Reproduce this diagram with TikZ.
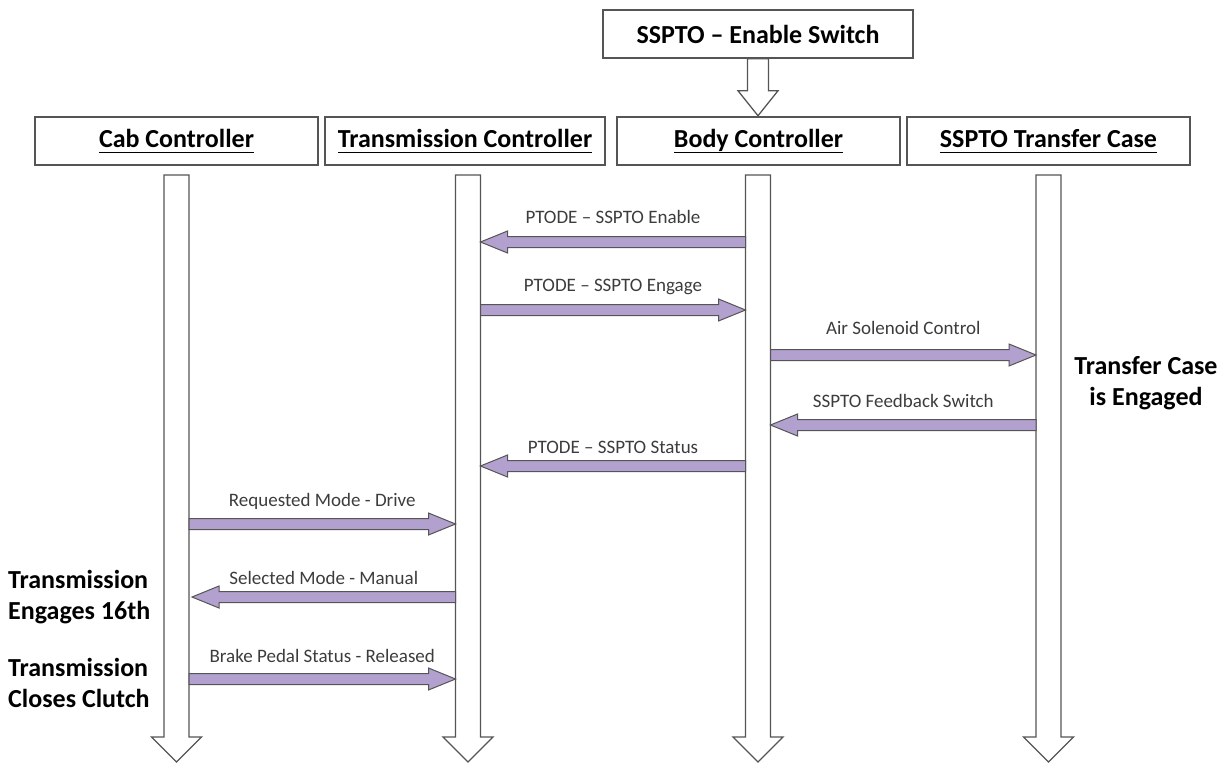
\documentclass[tikz,border=0pt]{standalone}
\usepackage{fontspec}
\setmainfont{Carlito}
\usetikzlibrary{calc}
\definecolor{lav}{RGB}{178,160,206}
\definecolor{edgec}{RGB}{85,85,85}
\definecolor{lbltext}{RGB}{60,60,60}
\newcommand\hdr[1]{\underline{#1\vphantom{Cyfl}}}
\newcommand\lifeline[1]{%
  \draw[hollow] (#1) ++(-12.5,0) -- ++(25,0) -- ++(0,562) -- ++(12.5,0) -- ++(-25,25) -- ++(-25,-25) -- ++(12.5,0) -- cycle;}
\newcommand\msg[4]{%
  \draw[fat] let \p1=(#1), \p2=(#2), \n1={sign(\x2-\x1)} in
    ({\x1},{\y1+5.5pt}) -- ({\x2-\n1*27pt},{\y1+5.5pt}) -- ({\x2-\n1*27pt},{\y1+11pt}) -- (\p2)
    -- ({\x2-\n1*27pt},{\y1-11pt}) -- ({\x2-\n1*27pt},{\y1-5.5pt}) -- ({\x1},{\y1-5.5pt}) -- cycle;
  \node[lbl] at ($(#1)!0.5!(#2)+(0,#4)$) {#3};}
\begin{document}
\begin{tikzpicture}[x=1pt,y=-1pt,
  box/.style={draw=edgec, line width=1.5pt, fill=white, minimum height=48pt, inner sep=0pt,
    font=\fontsize{26}{30}\selectfont\bfseries},
  lbl/.style={font=\fontsize{19}{22}\selectfont, text=lbltext},
  side/.style={font=\fontsize{26}{31}\selectfont\bfseries, align=left, inner sep=0pt},
  hollow/.style={draw=edgec, line width=1.3pt, fill=white},
  fat/.style={draw=edgec, line width=1pt, fill=lav}]
\useasboundingbox (0,0) rectangle (1228,763);

% boxes
\node[box, minimum width=310pt] (sw) at (758,34) {SSPTO – Enable Switch};
\node[box, minimum width=283pt] (cab) at (176.5,141) {\hdr{Cab Controller}};
\node[box, minimum width=280pt] (trans) at (465,141) {\hdr{Transmission Controller}};
\node[box, minimum width=283pt] (body) at (758.5,141) {\hdr{Body Controller}};
\node[box, minimum width=283pt] (tc) at (1048.5,141) {\hdr{SSPTO Transfer Case}};

% enable switch hollow arrow
\draw[hollow] (sw.south) ++(-10.5,0) -- ++(21,0) -- ++(0,32) -- ++(9.5,0) -- ++(-20,25) -- ++(-20,-25) -- ++(9.5,0) -- cycle;

% lifelines
\coordinate (cabL) at (176.5,175);
\coordinate (transL) at (468,175);
\coordinate (bodyL) at (758,175);
\coordinate (tcL) at (1048.5,175);
\lifeline{cabL}
\lifeline{transL}
\lifeline{bodyL}
\lifeline{tcL}

% message end points on lifeline edges
\coordinate (b1) at (745.5,242);  \coordinate (t1) at (480.5,242);
\coordinate (t2) at (480.5,310);  \coordinate (b2) at (745.5,310);
\coordinate (b3) at (770.5,355);  \coordinate (c3) at (1036,355);
\coordinate (c4) at (1036,425);   \coordinate (b4) at (770.5,425);
\coordinate (b5) at (745.5,466);  \coordinate (t5) at (480.5,466);
\coordinate (a6) at (189,524);    \coordinate (t6) at (455.5,524);
\coordinate (t7) at (455.5,597);  \coordinate (a7) at (192,597);
\coordinate (a8) at (189,679);    \coordinate (t8) at (455.5,679);

\msg{b1}{t1}{PTODE – SSPTO Enable}{-25}
\msg{t2}{b2}{PTODE – SSPTO Engage}{-23}
\msg{b3}{c3}{Air Solenoid Control}{-27}
\msg{c4}{b4}{SSPTO Feedback Switch}{-24}
\msg{b5}{t5}{PTODE – SSPTO Status}{-19}
\msg{a6}{t6}{Requested Mode - Drive}{-23}
\msg{t7}{a7}{Selected Mode - Manual}{-19}
\msg{a8}{t8}{Brake Pedal Status - Released}{-23}

% side notes
\node[side, align=center] (tcnote) at (1146,383) {Transfer Case\\is Engaged};
\node[side, anchor=west] (n1) at (8,597) {Transmission\\Engages 16th};
\node[side, anchor=west] (n2) at (8,683) {Transmission\\Closes Clutch};
\end{tikzpicture}
\end{document}
